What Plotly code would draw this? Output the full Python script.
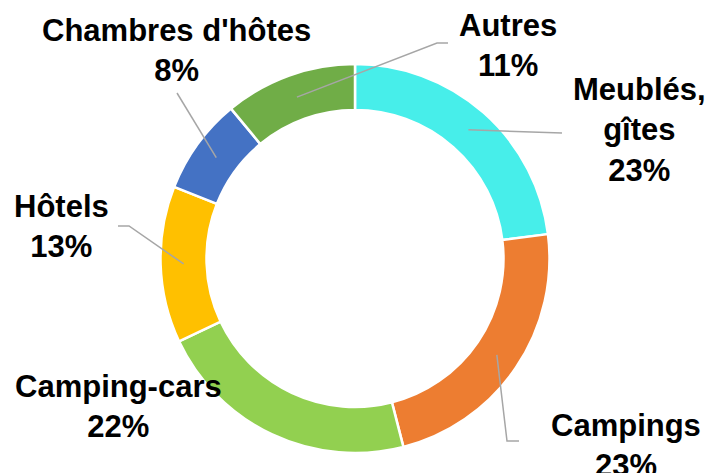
import math
import plotly.graph_objects as go

# ─── Data ────────────────────────────────────────────────────────────────────
categories = ["Meublés,<br>gîtes", "Campings", "Camping-cars", "Hôtels", "Chambres d'hôtes", "Autres"]
shares = [23, 23, 22, 13, 8, 11]
colors = ["#47EEEA", "#ED7D31", "#92D050", "#FFC000", "#4472C4", "#70AD47"]

# page has an 8px body margin, so the figure is drawn that much smaller
OFF = 8
W, H = 713 - OFF, 473 - OFF
CX, CY, R_OUT, R_IN = 355, 258.5, 194.5, 148.5

# label block centres and leader line elbows (window pixel coords)
label_pos = [(639, 130), (626, 445), (118, 406), (61, 226), (176, 50), (508, 45)]
leader_end = [[(562, 133)], [(507, 441), (519, 441)], None, [(129, 226), (118, 226)],
              [(177, 93)], [(437, 43), (448, 43)]]

fig = go.Figure(go.Pie(
    labels=categories, values=shares,
    marker=dict(colors=colors, line=dict(color="white", width=2.5)),
    hole=R_IN / R_OUT, sort=False, direction="clockwise", rotation=0,
    textinfo="none", hoverinfo="label+percent",
    domain=dict(x=[(CX - R_OUT - OFF) / W, (CX + R_OUT - OFF) / W],
                y=[1 - (CY + R_OUT - OFF) / H, 1 - (CY - R_OUT - OFF) / H]),
    showlegend=False,
))

# leader lines start mid-ring at each slice's mid angle
total = sum(shares)
cum = 0
r_mid = (R_IN + R_OUT) / 2
for i, v in enumerate(shares):
    ang = (cum + v / 2) / total * 2 * math.pi
    cum += v
    if not leader_end[i]:
        continue
    pts = [(CX + r_mid * math.sin(ang), CY - r_mid * math.cos(ang))] + leader_end[i]
    path = "M " + " L ".join(f"{x},{y}" for x, y in pts)
    fig.add_shape(type="path", path=path, xref="x", yref="y",
                  line=dict(color="#A6A6A6", width=1.5))

for i, (lab, v) in enumerate(zip(categories, shares)):
    fig.add_annotation(x=label_pos[i][0], y=label_pos[i][1], xref="x", yref="y",
                       text=f"{lab}<br>{v}%", showarrow=False,
                       xanchor="center", yanchor="middle", align="center",
                       font=dict(size=31, color="black", weight="bold",
                                 family="Liberation Sans, Arial, sans-serif"))

fig.update_layout(
    width=W, height=H,
    paper_bgcolor="white", plot_bgcolor="rgba(0,0,0,0)",
    margin=dict(l=0, r=0, t=0, b=0),
    xaxis=dict(range=[OFF, 713], visible=False, fixedrange=True),
    yaxis=dict(range=[473, OFF], visible=False, fixedrange=True),
    font=dict(family="Liberation Sans, Arial, sans-serif"),
)

fig.write_html("out.html")
